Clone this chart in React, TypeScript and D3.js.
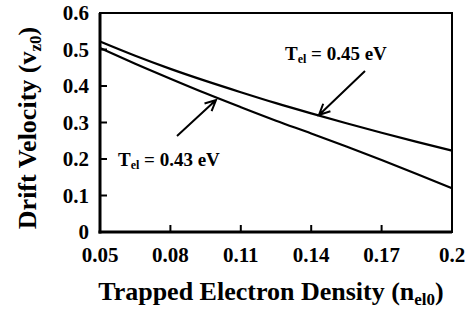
import React from 'react';
import * as d3 from 'd3';

const density = [0.05, 0.065, 0.08, 0.095, 0.11, 0.125, 0.14, 0.155, 0.17, 0.185, 0.2];
const velocity045 = [0.522, 0.483, 0.447, 0.414, 0.383, 0.353, 0.325, 0.298, 0.272, 0.247, 0.223];
const velocity043 = [0.504, 0.461, 0.42, 0.38, 0.342, 0.305, 0.27, 0.234, 0.197, 0.159, 0.12];
const xTicks = [0.05, 0.08, 0.11, 0.14, 0.17, 0.2];
const yTicks = [0, 0.1, 0.2, 0.3, 0.4, 0.5, 0.6];

const W = 469, H = 311;
const m = { left: 100, right: 17, top: 13, bottom: 79 };
const font = "'Times New Roman', 'Liberation Serif', serif";

export default function App() {
  const x = d3.scaleLinear().domain([0.05, 0.2]).range([m.left, W - m.right]);
  const y = d3.scaleLinear().domain([0, 0.6]).range([H - m.bottom, m.top]);
  const line = d3.line<number>()
    .x((_, i) => x(density[i]))
    .y(d => y(d))
    .curve(d3.curveMonotoneX);

  const arrowHead = (x1: number, y1: number, x2: number, y2: number) => {
    const a = Math.atan2(y2 - y1, x2 - x1);
    const len = 12, spread = 0.45;
    const p1 = [x2 - len * Math.cos(a - spread), y2 - len * Math.sin(a - spread)];
    const p2 = [x2 - len * Math.cos(a + spread), y2 - len * Math.sin(a + spread)];
    return `M${x1},${y1}L${x2},${y2}M${p1[0]},${p1[1]}L${x2},${y2}L${p2[0]},${p2[1]}`;
  };

  return (
    <svg width={W} height={H} style={{ position: 'absolute', left: 0, top: 0, background: '#fff' }}
      fontFamily={font} fontWeight="bold">
      <rect x={m.left} y={m.top} width={W - m.left - m.right} height={H - m.top - m.bottom}
        fill="none" stroke="#000" strokeWidth={2} />
      <line x1={m.left} x2={m.left} y1={m.top} y2={y(0) + 1.5} stroke="#000" strokeWidth={3} />
      <line x1={m.left - 1.5} x2={W - m.right} y1={y(0)} y2={y(0)} stroke="#000" strokeWidth={3} />
      {yTicks.map(t => (
        <g key={'y' + t}>
          {t > 0 && t < 0.6 && <line x1={m.left} x2={m.left + 7} y1={y(t)} y2={y(t)} stroke="#000" strokeWidth={2} />}
          <text x={89} y={y(t)} dy="0.35em" textAnchor="end" fontSize={21}>{t === 0 ? '0' : t.toFixed(1)}</text>
        </g>
      ))}
      {xTicks.map(t => (
        <g key={'x' + t}>
          {t > 0.05 && t < 0.2 && <line x1={x(t)} x2={x(t)} y1={y(0)} y2={y(0) - 7} stroke="#000" strokeWidth={2} />}
          <text x={x(t)} y={262} textAnchor="middle" fontSize={21}>{t === 0.2 ? '0.2' : t.toFixed(2)}</text>
        </g>
      ))}
      <path d={line(velocity045) || ''} fill="none" stroke="#000" strokeWidth={2.2} />
      <path d={line(velocity043) || ''} fill="none" stroke="#000" strokeWidth={2.2} />

      <path d={arrowHead(365, 71, 319, 115)} fill="none" stroke="#000" strokeWidth={2} />
      <path d={arrowHead(177, 136, 216, 100)} fill="none" stroke="#000" strokeWidth={2} />

      <text x={285} y={60} fontSize={19}>T<tspan fontSize={12} dy={3}>el</tspan><tspan dy={-3}> = 0.45 eV</tspan></text>
      <text x={118} y={166} fontSize={19}>T<tspan fontSize={12} dy={3}>el</tspan><tspan dy={-3}> = 0.43 eV</tspan></text>

      <text x={271} y={300} textAnchor="middle" fontSize={26}>
        Trapped Electron Density (n<tspan fontSize={17} dy={5}>el0</tspan><tspan dy={-5}>)</tspan>
      </text>
      <text transform={`translate(36,${128}) rotate(-90)`} textAnchor="middle" fontSize={26}>
        Drift Velocity (v<tspan fontSize={17} dy={5}>z0</tspan><tspan dy={-5}>)</tspan>
      </text>
    </svg>
  );
}
